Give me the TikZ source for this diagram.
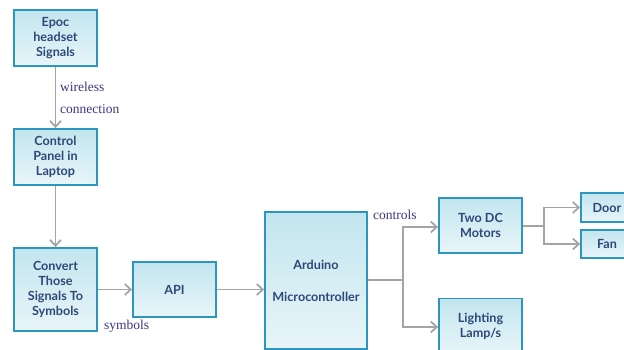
\documentclass[tikz,border=0pt]{standalone}
\usepackage{fontspec}
\setmainfont{Liberation Serif}
\newfontfamily\boxfont{Lato}
\usetikzlibrary{arrows.meta}
\definecolor{boxborder}{HTML}{2B96BE}
\definecolor{boxtop}{HTML}{C3E5EE}
\definecolor{boxbot}{HTML}{E8F5F9}
\definecolor{boxtext}{HTML}{2E4878}
\definecolor{linegray}{HTML}{A4A4A4}
\definecolor{labelcol}{HTML}{3E3585}
\tikzset{
  blk/.style={draw=boxborder, line width=1.8pt, top color=boxtop, bottom color=boxbot,
    rectangle, align=center, inner sep=0pt, text=boxtext,
    font=\boxfont\bfseries\fontsize{12.6}{15}\selectfont},
  conn/.style={draw=linegray, line width=1.8pt,
    -{Straight Barb[length=6pt,width=11pt,line width=1.8pt]}},
  plain/.style={draw=linegray, line width=1.8pt},
  lbl/.style={text=labelcol, font=\fontsize{13.5}{15}\selectfont, inner sep=0pt}
}
\begin{document}
\begin{tikzpicture}[x=1pt,y=-1pt]
\useasboundingbox (0,0) rectangle (624,350);
\node[blk, minimum width=83pt, minimum height=56pt] (epoc) at (55.5,38) {Epoc\\headset\\Signals};
\node[blk, minimum width=83pt, minimum height=56pt] (ctrl) at (55.5,157) {Control\\Panel in\\Laptop};
\node[blk, minimum width=83pt, minimum height=83pt] (conv) at (55.5,289.5) {Convert\\Those\\Signals To\\Symbols};
\node[blk, minimum width=83pt, minimum height=55pt] (api) at (174.5,289.5) {API};
\node[blk, minimum width=102pt, minimum height=137pt] (ard) at (316,280.5) {Arduino\\[17pt]Microcontroller};
\node[blk, minimum width=83pt, minimum height=55pt] (mot) at (480.5,225.5) {Two DC\\Motors};
\node[blk, minimum width=83pt, minimum height=55pt] (lamp) at (480.5,326) {Lighting\\Lamp/s};
\node[blk, minimum width=52pt, minimum height=29pt] (door) at (607,207.5) {Door};
\node[blk, minimum width=52pt, minimum height=28pt] (fan) at (607,244) {Fan};

\draw[conn] (epoc.south) -- (ctrl.north);
\draw[conn] (ctrl.south) -- (conv.north);
\draw[conn] (conv.east) -- (api.west);
\draw[conn] (api.east) -- (api.east -| ard.west);
\coordinate (j1) at (403,280);
\coordinate (j2) at (544,226);
\draw[plain] (ard.east |- j1) -- (j1);
\draw[conn] (j1) |- (mot.west |- 0,227);
\draw[conn] (j1) |- (lamp.west |- 0,327);
\draw[plain] (mot.east |- j2) -- (j2);
\draw[conn] (j2) |- (door.west);
\draw[conn] (j2) |- (fan.west);

\node[lbl, anchor=west] (l1) at (60,87) {wireless};
\node[lbl, anchor=west] (l2) at (60,109) {connection};
\node[lbl, anchor=west] (l3) at (373,215) {controls};
\node[lbl, anchor=west] (l4) at (104,326) {symbols};
\end{tikzpicture}
\end{document}
